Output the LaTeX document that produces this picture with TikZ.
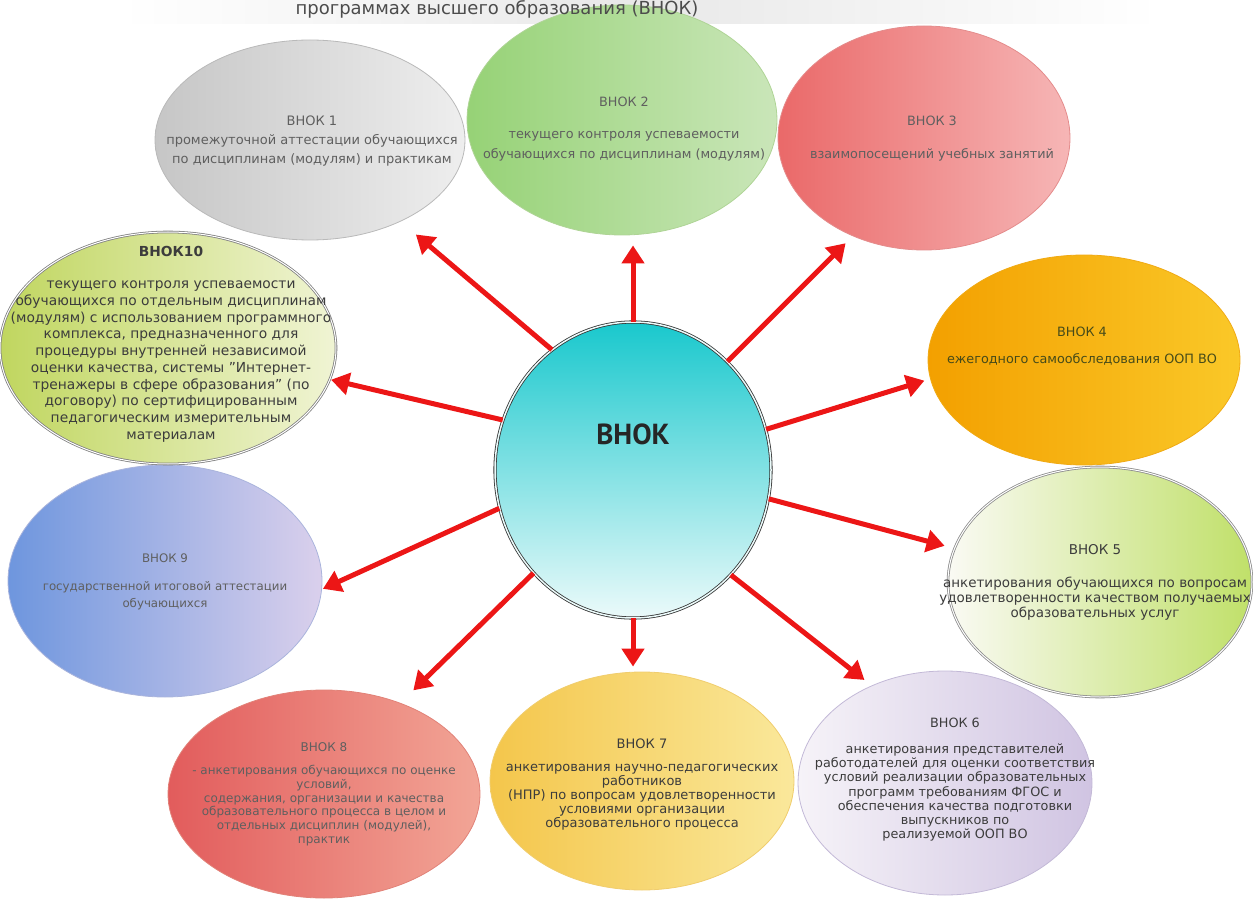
\documentclass[tikz,border=0pt]{standalone}
\usepackage{fontspec}
\setmainfont{DejaVu Sans}
\newfontfamily\hubfont{PT Sans}
\usepackage{tikz}
\usetikzlibrary{shapes.geometric}
\usetikzlibrary{arrows.meta}

\definecolor{spokered}{RGB}{236,22,22}
\definecolor{capgray}{RGB}{95,95,95}
\definecolor{capdark}{RGB}{60,60,60}
\definecolor{capolive}{RGB}{70,75,25}
\definecolor{hubtop}{RGB}{25,200,205}
\definecolor{hubmid}{RGB}{85,225,228}
\definecolor{hubbot}{RGB}{235,250,250}

\newcommand{\bnsize}[2]{\fontsize{#1}{#2}\selectfont}

\tikzset{
  bubble/.style={ellipse, inner sep=0pt, line width=0.8pt},
  caption/.style={align=center, text=capdark},
  spoke/.style={draw=spokered, line width=5pt, -{Triangle[length=18pt,width=22pt]}},
}

\begin{document}
\begin{tikzpicture}[x=1pt, y=-1pt]
  \useasboundingbox (0,0) rectangle (1253,901);

  % header strip
  \shade[left color=white, right color=white, middle color=black!9]
  (120,0) rectangle (1160,24);

  \node[bubble, minimum width=310pt, minimum height=200pt, draw={rgb,255:red,185;green,185;blue,185},
    left color={rgb,255:red,198;green,198;blue,198}, right color={rgb,255:red,238;green,238;blue,238}]
    (n1) at (310,140) {};
  \node[bubble, minimum width=310pt, minimum height=230pt, draw={rgb,255:red,175;green,212;blue,150},
    left color={rgb,255:red,150;green,210;blue,118}, right color={rgb,255:red,202;green,230;blue,185}]
    (n2) at (622,120) {};
  \node[bubble, minimum width=292pt, minimum height=224pt, draw={rgb,255:red,228;green,140;blue,140},
    left color={rgb,255:red,234;green,105;blue,105}, right color={rgb,255:red,246;green,182;blue,182}]
    (n3) at (924,138) {};
  \node[bubble, minimum width=312pt, minimum height=210pt, draw={rgb,255:red,240;green,170;blue,20},
    left color={rgb,255:red,243;green,160;blue,0}, right color={rgb,255:red,250;green,200;blue,40}]
    (n4) at (1084,360) {};
  \node[bubble, minimum width=304pt, minimum height=230pt, draw=black!45, double=white, double distance=1pt,
    left color={rgb,255:red,250;green,250;blue,244}, right color={rgb,255:red,192;green,224;blue,105}]
    (n5) at (1100,582) {};
  \node[bubble, minimum width=294pt, minimum height=224pt, draw={rgb,255:red,195;green,185;blue,215},
    left color={rgb,255:red,246;green,243;blue,248}, right color={rgb,255:red,208;green,196;blue,226}]
    (n6) at (945,783) {};
  \node[bubble, minimum width=304pt, minimum height=218pt, draw={rgb,255:red,240;green,205;blue,110},
    left color={rgb,255:red,244;green,198;blue,75}, right color={rgb,255:red,250;green,232;blue,155}]
    (n7) at (642,781) {};
  \node[bubble, minimum width=312pt, minimum height=208pt, draw={rgb,255:red,225;green,130;blue,120},
    left color={rgb,255:red,226;green,92;blue,92}, right color={rgb,255:red,242;green,165;blue,150}]
    (n8) at (324,794) {};
  \node[bubble, minimum width=314pt, minimum height=232pt, draw={rgb,255:red,170;green,180;blue,220},
    left color={rgb,255:red,110;green,150;blue,222}, middle color={rgb,255:red,175;green,200;blue,240},
    right color={rgb,255:red,218;green,208;blue,236}]
    (n9) at (165,581) {};
  \node[bubble, minimum width=336pt, minimum height=232pt, draw=black!50, double=white, double distance=1pt,
    left color={rgb,255:red,192;green,214;blue,95}, right color={rgb,255:red,240;green,244;blue,212}]
    (n10) at (168,348) {};

  \node[bubble, minimum width=276pt, minimum height=296pt, draw=black!80, double=hubbot, double distance=1.5pt,
    top color=hubtop, middle color=hubmid, bottom color=hubbot]
    (c) at (633,470) {};

  \node[font=\bnsize{18}{22}, text=black!70, anchor=base] (head) at (497,15)
  {программах высшего образования (ВНОК)};

  \draw[spoke, shorten >=20pt] (c.124) -- (n1.-42);
  \draw[spoke, shorten >=10pt] (c.north) -- (n2.south -| c.north);
  \draw[spoke, shorten >=10pt] (c.49) -- (n3.234);
  \draw[spoke, shorten >=6pt] (c.17) -- (n4.187);
  \draw[spoke, shorten >=10pt] (c.-12) -- (n5.167);
  \draw[spoke, shorten >=9pt] (c.-47) -- (n6.127);
  \draw[spoke, shorten >=5pt] (c.south) -- (n7.north -| c.south);
  \draw[spoke, shorten >=18pt] (c.226) -- (n8.50);
  \draw[spoke, shorten >=1pt] (c.196) -- (n9.-3);
  \draw[spoke, shorten >=1pt] (c.159) -- (n10.-11);

  \node[font=\hubfont\bfseries\fontsize{29}{32}\selectfont, text=black!85] (hub) at (633,434) {ВНОК};

  \node[caption, text=capgray, font=\bnsize{13}{19}] (t1) at (312,141)
  {ВНОК 1\\промежуточной аттестации обучающихся\\по дисциплинам (модулям) и практикам};
  \node[caption, text=capgray, font=\bnsize{12.8}{20}] (t2) at (624,129)
  {ВНОК 2\\[12pt]текущего контроля успеваемости\\обучающихся по дисциплинам (модулям)};
  \node[caption, text=capgray, font=\bnsize{12.8}{17}] (t3) at (932,139)
  {ВНОК 3\\[16pt]взаимопосещений учебных занятий};
  \node[caption, text=capolive, font=\bnsize{12.8}{17}] (t4) at (1082,346)
  {ВНОК 4\\[10pt]ежегодного самообследования ООП ВО};
  \node[caption, font=\bnsize{13.5}{15}] (t5) at (1095,582)
  {ВНОК 5\\[18pt]анкетирования обучающихся по вопросам\\удовлетворенности качеством получаемых\\образовательных услуг};
  \node[caption, font=\bnsize{12.8}{14.3}] (t6) at (955,780)
  {ВНОК 6\\[11pt]анкетирования представителей\\работодателей для оценки соответствия\\условий реализации образовательных\\программ требованиям ФГОС и\\обеспечения качества подготовки\\выпускников по\\реализуемой ООП ВО};
  \node[caption, font=\bnsize{13}{14}] (t7) at (642,785)
  {ВНОК 7\\[9pt]анкетирования научно-педагогических\\работников\\(НПР) по вопросам удовлетворенности\\условиями организации\\образовательного процесса};
  \node[caption, text=capgray, font=\bnsize{12}{13.7}] (t8) at (324,794)
  {ВНОК 8\\[10pt]- анкетирования обучающихся по оценке\\условий,\\содержания, организации и качества\\образовательного процесса в целом и\\отдельных дисциплин (модулей),\\практик};
  \node[caption, text=capgray, font=\bnsize{11.8}{17}] (t9) at (165,582)
  {ВНОК 9\\[11pt]государственной итоговой аттестации\\обучающихся};
  \node[caption, font=\bnsize{13.8}{16.7}] (t10) at (171,344)
  {\textbf{ВНОК10}\\[16pt]текущего контроля успеваемости\\обучающихся по отдельным дисциплинам\\(модулям) с использованием программного\\комплекса, предназначенного для\\процедуры внутренней независимой\\оценки качества, системы "Интернет-\\тренажеры в сфере образования" (по\\договору) по сертифицированным\\педагогическим измерительным\\материалам};
\end{tikzpicture}
\end{document}
